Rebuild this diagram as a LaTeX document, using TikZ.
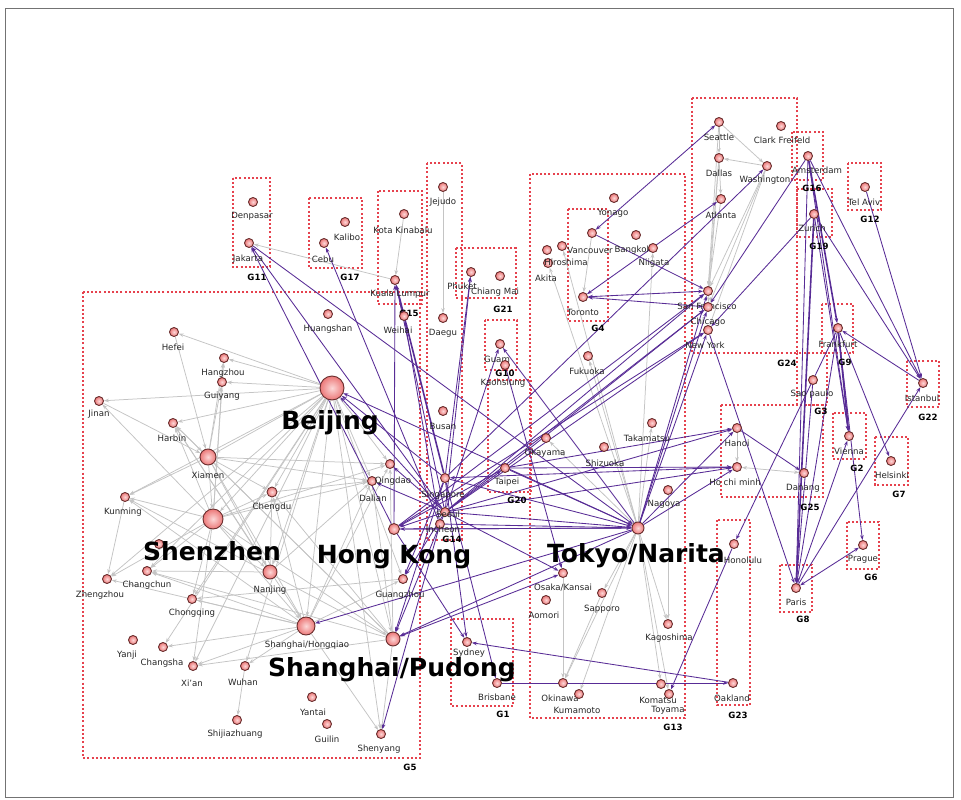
\documentclass[tikz,border=0pt]{standalone}
\usepackage{fontspec}
\setmainfont{DejaVu Sans}
\usetikzlibrary{arrows.meta}
\pgfdeclarelayer{bg}
\pgfdeclarelayer{edgelayer}
\pgfsetlayers{bg,edgelayer,main}
\definecolor{pur}{RGB}{88,44,150}
\definecolor{grl}{RGB}{196,196,196}
\definecolor{boxred}{RGB}{230,66,78}
\definecolor{nodeout}{RGB}{105,45,45}
\definecolor{nodein}{RGB}{252,215,215}
\definecolor{nodemid}{RGB}{236,120,120}
\tikzset{
  cnode/.style={circle, draw=nodeout, line width=0.9pt, inner sep=0pt, minimum size=9pt, inner color=nodein, outer color=nodemid},
  clabel/.style={font=\fontsize{8.6}{9}\selectfont, inner sep=0pt, text=black!85},
  bigl/.style={font=\fontsize{25}{28}\selectfont\bfseries, inner sep=0pt},
  glabel/.style={font=\fontsize{8.6}{9}\selectfont\bfseries, inner sep=0pt},
  gbox/.style={draw=boxred, line width=1.25pt, dash pattern=on 2pt off 2.2pt},
  gedge/.style={draw=grl, line width=0.75pt, -{Stealth[length=5pt,width=3.6pt]}},
  pedge/.style={draw=pur, line width=0.85pt, -{Stealth[length=5pt,width=3.6pt]}},
  pboth/.style={draw=pur, line width=0.85pt, {Stealth[length=5pt,width=3.6pt]}-{Stealth[length=5pt,width=3.6pt]}},
  gboth/.style={draw=grl, line width=0.75pt, {Stealth[length=5pt,width=3.6pt]}-{Stealth[length=5pt,width=3.6pt]}}
}
\newcommand\cty[6]{\node[cnode] (#1) at (#2,#3) {}; \node[clabel] (#1-l) at (#4,#5) {#6};}
\begin{document}
\begin{tikzpicture}[x=1pt,y=-1pt]
\useasboundingbox (0,0) rectangle (961,800);

% ---------- background, frame and group boxes ----------
\begin{pgfonlayer}{bg}
\fill[white] (0,0) rectangle (961,800);
\draw[black!55, line width=0.8pt] (5,8) rectangle (953,797);
\foreach \xa/\ya/\xb/\yb in {233/178/270/267, 309/198/362/268, 378/191/422/304, 427/163/462/540,
  456/248/516/298, 485/320/517/370, 488/380/531/492, 530/174/685/718, 568/209/608/321,
  692/98/797/353, 792/132/823/180, 797/189/832/237, 848/163/881/210, 822/304/853/353,
  907/361/939/407, 797/353/827/405, 833/413/866/459, 875/437/908/485, 721/405/823/497,
  717/520/750/705, 847/522/879/569, 780/565/812/612, 451/619/513/706, 83/292/420/758}
  \draw[gbox] (\xa,\ya) rectangle (\xb,\yb);
\end{pgfonlayer}

% group labels
\node[glabel] (G11) at (257,277) {G11};
\node[glabel] (G17) at (350,277) {G17};
\node[glabel] (G15) at (409,313) {G15};
\node[glabel] (G14) at (452,539.5) {G14};
\node[glabel] (G21) at (503,309) {G21};
\node[glabel] (G10) at (505,373) {G10};
\node[glabel] (G20) at (517,500) {G20};
\node[glabel] (G13) at (673,727) {G13};
\node[glabel] (G4) at (598,328) {G4};
\node[glabel] (G24) at (787,363) {G24};
\node[glabel] (G16) at (812,188) {G16};
\node[glabel] (G19) at (819,246) {G19};
\node[glabel] (G12) at (870,219) {G12};
\node[glabel] (G9) at (845,362) {G9};
\node[glabel] (G22) at (928,417) {G22};
\node[glabel] (G3) at (821,411) {G3};
\node[glabel] (G2) at (857,468) {G2};
\node[glabel] (G7) at (899,494) {G7};
\node[glabel] (G25) at (810,507) {G25};
\node[glabel] (G23) at (738,715) {G23};
\node[glabel] (G6) at (871,577) {G6};
\node[glabel] (G8) at (803,619) {G8};
\node[glabel] (G1) at (503,714) {G1};
\node[glabel] (G5) at (410,767) {G5};

% ---------- big nodes ----------
\node[cnode, minimum size=24pt] (B) at (332,388) {};
\node[cnode, minimum size=20pt] (Sz) at (213,519) {};
\node[cnode, minimum size=16pt] (Xm) at (208,457) {};
\node[cnode, minimum size=18pt] (Hq) at (306,626) {};
\node[cnode, minimum size=14pt] (Nj) at (270,572) {};
\node[cnode, minimum size=14pt] (Pd) at (393,639) {};
\node[cnode, minimum size=11pt] (HK) at (394,529) {};
\node[cnode, minimum size=12pt] (Tokyo) at (638,528) {};
\node[cnode, minimum size=10pt] (Chengdu) at (272,492) {};
\node[clabel] (Xm-l) at (208,475) {Xiamen};
\node[clabel] (Nj-l) at (270,590) {Nanjing};
\node[clabel] (Hq-l) at (307,645) {Shanghai/Hongqiao};
\node[clabel] (Chengdu-l) at (272,507) {Chengdu};

% ---------- cities ----------
\cty{Denpasar}{253}{202}{252}{216}{Denpasar}
\cty{Jakarta}{249}{243}{248}{259}{Jakarta}
\cty{Kalibo}{345}{222}{347}{237}{Kalibo}
\cty{Cebu}{324}{243}{323}{259}{Cebu}
\cty{Huangshan}{328}{314}{328}{329}{Huangshan}
\cty{Hefei}{174}{332}{173}{347}{Hefei}
\cty{KotaK}{404}{214}{403}{230}{Kota Kinabalu}
\cty{KL}{395}{280}{400}{294}{Kuala Lumpur}
\cty{Weihai}{404}{316}{398}{330}{Weihai}
\cty{Jejudo}{443}{187}{443}{202}{Jejudo}
\cty{Daegu}{443}{318}{443}{333}{Daegu}
\cty{Phuket}{471}{272}{462}{286}{Phuket}
\cty{ChiangMai}{500}{276}{495}{292}{Chiang Mai}
\cty{Guam}{500}{344}{497}{359}{Guam}
\cty{Kaohsiung}{505}{365}{503}{383}{Kaohsiung}
\cty{Busan}{443}{411}{443}{426}{Busan}
\cty{Taipei}{505}{468}{507}{482}{Taipei}
\cty{Singapore}{445}{478}{443}{495}{Singapore}
\cty{Seoul}{445}{512}{448}{514}{Seoul}
\cty{Incheon}{440}{524}{443}{529}{Incheon}
\cty{Yonago}{614}{198}{613}{213}{Yonago}
\cty{Vancouver}{592}{233}{590}{250}{Vancouver}
\node[cnode] (Jp1) at (547,250) {};
\cty{Akita}{548}{263}{546}{278}{Akita}
\cty{Hiroshima}{562}{246}{566}{262}{Hiroshima}
\cty{Bangkok}{636}{235}{633}{250}{Bangkok}
\cty{Niigata}{653}{248}{654}{263}{Niigata}
\cty{Toronto}{583}{297}{583}{312}{Toronto}
\cty{Fukuoka}{588}{356}{587}{371}{Fukuoka}
\cty{Okayama}{546}{438}{545}{453}{Okayama}
\cty{Takamatsu}{652}{423}{647}{438}{Takamatsu}
\cty{Shizuoka}{604}{447}{605}{463}{Shizuoka}
\cty{Nagoya}{668}{490}{664}{504}{Nagoya}
\cty{Osaka}{563}{573}{563}{588}{Osaka/Kansai}
\cty{Sapporo}{602}{593}{602}{609}{Sapporo}
\cty{Aomori}{546}{600}{544}{615}{Aomori}
\cty{Kagoshima}{668}{624}{669}{638}{Kagoshima}
\cty{Okinawa}{563}{683}{560}{698}{Okinawa}
\cty{Kumamoto}{579}{694}{577}{710}{Kumamoto}
\cty{Komatsu}{661}{684}{658}{700}{Komatsu}
\cty{Toyama}{669}{694}{668}{710}{Toyama}
\cty{Sydney}{467}{642}{469}{653}{Sydney}
\cty{Brisbane}{497}{683}{497}{697}{Brisbane}
\cty{Seattle}{719}{122}{719}{137}{Seattle}
\cty{Clark}{781}{126}{782}{140}{Clark Freifeld}
\cty{Dallas}{719}{158}{719}{173}{Dallas}
\cty{Washington}{767}{166}{765}{180}{Washington}
\cty{Atlanta}{721}{199}{721}{215}{Atlanta}
\cty{SF}{708}{291}{707}{306}{San Francisco}
\cty{Chicago}{708}{307}{708}{322}{Chicago}
\cty{NY}{708}{330}{705}{345}{New York}
\cty{Amsterdam}{808}{156}{817}{170}{Amsterdam}
\cty{Zurich}{814}{214}{812}{228}{Zurich}
\cty{TelAviv}{865}{187}{864}{202}{Tel Aviv}
\cty{Frankfurt}{838}{328}{838}{344}{Frankfurt}
\cty{Istanbul}{923}{383}{922}{398}{Istanbul}
\cty{SaoPaulo}{813}{380}{812}{394}{Sao paulo}
\cty{Vienna}{849}{436}{849}{451}{Vienna}
\cty{Helsinki}{891}{461}{892}{475}{Helsinki}
\cty{Hanoi}{737}{428}{737}{443}{Hanoi}
\cty{HCM}{737}{467}{735}{482}{Ho chi minh}
\cty{Danang}{804}{473}{803}{488}{Danang}
\cty{Honolulu}{734}{544}{743}{560}{Honolulu}
\cty{Prague}{863}{545}{863}{559}{Prague}
\cty{Paris}{796}{588}{796}{602}{Paris}
\cty{Oakland}{733}{683}{732}{698}{Oakland}
\cty{Hangzhou}{224}{358}{223}{373}{Hangzhou}
\cty{Guiyang}{222}{382}{222}{396}{Guiyang}
\cty{Jinan}{99}{401}{99}{414}{Jinan}
\cty{Harbin}{173}{423}{172}{438}{Harbin}
\cty{Kunming}{125}{497}{123}{512}{Kunming}
\cty{Dalian}{372}{481}{373}{498}{Dalian}
\cty{Qingdao}{390}{464}{393}{481}{Qingdao}
\cty{Zhengzhou}{107}{579}{100}{595}{Zhengzhou}
\cty{Changchun}{147}{571}{147}{585}{Changchun}
\node[cnode] (Cn1) at (159,544) {};
\cty{Chongqing}{192}{599}{192}{613}{Chongqing}
\cty{Yanji}{133}{640}{127}{655}{Yanji}
\cty{Changsha}{163}{647}{162}{663}{Changsha}
\cty{Xian}{193}{666}{192}{683}{Xi'an}
\cty{Wuhan}{245}{666}{243}{682}{Wuhan}
\cty{Guangzhou}{403}{579}{400}{595}{Guangzhou}
\cty{Yantai}{312}{697}{313}{712}{Yantai}
\cty{Guilin}{327}{724}{327}{739}{Guilin}
\cty{Shijiazhuang}{237}{720}{235}{734}{Shijiazhuang}
\cty{Shenyang}{381}{734}{379}{749}{Shenyang}

% big labels
\node[bigl] (B-l) at (330,423) {Beijing};
\node[bigl] (Sz-l) at (212,551) {Shenzhen};
\node[bigl] (HK-l) at (394,557) {Hong Kong};
\node[bigl] (Tokyo-l) at (636,556) {Tokyo/Narita};
\node[bigl] (Pd-l) at (392,670) {Shanghai/Pudong};

% ---------- edges ----------
\begin{pgfonlayer}{edgelayer}
\foreach \a/\b in {B/Hefei, B/Hangzhou, B/Guiyang, B/Jinan, B/Harbin, B/Xm, B/Kunming, B/Chengdu, B/Sz,
  B/Zhengzhou, B/Changchun, B/Chongqing, B/Xian, B/Wuhan, B/Hq, B/Pd, B/Guangzhou, B/Dalian, B/Nj,
  B/Changsha, B/Shenyang, B/Qingdao,
  Xm/Hangzhou, Xm/Guiyang, Harbin/Xm, Jinan/Xm, Hefei/Xm, Xm/Kunming, Xm/Sz, Xm/Chengdu, Xm/Dalian,
  Xm/Qingdao, Xm/Hq, Xm/Nj,
  Sz/Harbin, Sz/Kunming, Sz/Chengdu, Sz/Dalian, Sz/Qingdao, Sz/Hq, Sz/Pd, Sz/Nj, Sz/Changchun,
  Sz/Zhengzhou, Sz/Chongqing, Sz/Xian, Sz/Jinan, Sz/Hangzhou, Sz/Guiyang,
  Hq/Changchun, Hq/Chongqing, Hq/Changsha, Hq/Xian, Hq/Wuhan, Hq/Shenyang, Hq/Dalian, Hq/Qingdao,
  Hq/Harbin, Hq/Kunming, Hq/Chengdu, Hq/Zhengzhou, Hq/Guangzhou,
  Pd/Shenyang, Pd/Dalian, Pd/Qingdao, Pd/Harbin, Pd/Xm, Pd/Chengdu, Pd/Changchun, Pd/Kunming, Pd/Xian,
  Nj/Chengdu, Nj/Dalian, Nj/Harbin, Nj/Changchun,
  Wuhan/Shijiazhuang, Kunming/Zhengzhou, Chengdu/Dalian, Guangzhou/Chongqing,
  KotaK/KL, KL/Jakarta, Jejudo/Daegu,
  Tokyo/Sapporo, Tokyo/Okinawa, Tokyo/Kumamoto, Tokyo/Kagoshima, Tokyo/Komatsu, Tokyo/Toyama,
  Tokyo/Fukuoka, Tokyo/Akita, Tokyo/Hiroshima, Tokyo/Niigata, Tokyo/Okayama, Tokyo/Takamatsu,
  Osaka/Okinawa, Sapporo/Okinawa, Nagoya/Kagoshima, Vancouver/Toronto,
  Seattle/SF, Dallas/SF, Atlanta/SF, Washington/SF, Washington/Chicago, Washington/NY, Seattle/Dallas,
  Dallas/Atlanta, Seattle/Washington, Washington/Dallas, Dallas/Chicago, Hanoi/HCM}
  \draw[gedge] (\a) -- (\b);
\draw[gboth] (HCM) -- (Danang);

\foreach \a/\b in {HK/Jakarta, Seoul/Jakarta, Incheon/Cebu, HK/KL, Seoul/KL, Incheon/Weihai,
  Seoul/Phuket, Singapore/Phuket, Seoul/Guam, Tokyo/Guam, Kaohsiung/Osaka,
  Seoul/Tokyo, HK/Tokyo, Singapore/Tokyo, Taipei/Tokyo, Incheon/Tokyo, Tokyo/HK, Taipei/HK, Seoul/HK,
  Seoul/Dalian, Seoul/Qingdao, Seoul/Hanoi, Taipei/Hanoi, Tokyo/Hanoi,
  Seoul/HCM, Taipei/HCM, Tokyo/HCM,
  Seoul/SF, Tokyo/SF, HK/SF, Taipei/Chicago, Seoul/Chicago, Tokyo/Chicago, Seoul/NY, Tokyo/NY, HK/NY,
  Vancouver/SF, Singapore/Washington, Amsterdam/Chicago, Zurich/NY,
  TelAviv/Istanbul, Zurich/Istanbul, Amsterdam/Istanbul, Istanbul/Frankfurt,
  Amsterdam/Vienna, Amsterdam/Paris, Zurich/Vienna, Frankfurt/Helsinki, Frankfurt/Paris,
  Frankfurt/Prague, Paris/Istanbul, Paris/Vienna, SaoPaulo/Paris, NY/Paris, Hanoi/Danang,
  Frankfurt/Honolulu, Honolulu/Toyama, Brisbane/Oakland, Oakland/Sydney, HK/Sydney, Singapore/Sydney,
  Singapore/Brisbane, Seoul/Osaka, Tokyo/Pd, Tokyo/Hq, Seoul/Pd, Singapore/Pd, Seoul/Guangzhou,
  Singapore/Guangzhou, Incheon/Shenyang, Seoul/Taipei, Seoul/B, Singapore/B, Tokyo/B, Jakarta/Tokyo}
  \draw[pedge] (\a) -- (\b);
\foreach \a/\b in {Singapore/HCM, Toronto/SF, Toronto/Chicago, Seattle/Vancouver, Atlanta/Toronto,
  Prague/Paris, Pd/Osaka}
  \draw[pboth] (\a) -- (\b);
\foreach \a/\b in {Singapore/KL, Amsterdam/Frankfurt, Frankfurt/Vienna, Zurich/Paris}
  \draw[pedge, line width=1.6pt] (\a) -- (\b);
\end{pgfonlayer}
\end{tikzpicture}
\end{document}
